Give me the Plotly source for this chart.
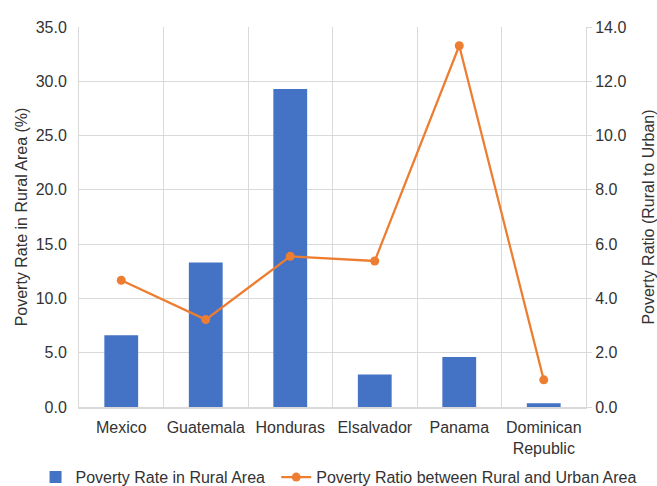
import plotly.graph_objects as go

# Rural poverty figures by country
countries = ["Mexico", "Guatemala", "Honduras", "Elsalvador", "Panama", "Dominican<br>Republic"]
rural_rate = [6.6, 13.3, 29.3, 3.0, 4.6, 0.35]          # % of rural population
rural_urban_ratio = [4.67, 3.22, 5.55, 5.38, 13.31, 1.0]  # rural / urban poverty

BLUE = "#4472C4"
ORANGE = "#ED7D31"
GRID = "#D9D9D9"
FONT = "Liberation Sans, Arial, sans-serif"
TXT = "#333333"

fig = go.Figure()

fig.add_trace(go.Bar(
    x=countries, y=rural_rate, name="Poverty Rate in Rural Area",
    marker=dict(color=BLUE, line=dict(width=0)), width=0.4,
    legend="legend",
))

fig.add_trace(go.Scatter(
    x=countries, y=rural_urban_ratio, name="Poverty Ratio between Rural and Urban Area",
    mode="lines+markers", yaxis="y2",
    line=dict(color=ORANGE, width=2.25),
    marker=dict(color=ORANGE, size=9),
    legend="legend2",
))

legend_common = dict(orientation="h", xanchor="left", y=-0.14, yanchor="top",
                     font=dict(size=16), itemwidth=30, bgcolor="rgba(0,0,0,0)")

fig.update_layout(
    width=657, height=486,
    margin=dict(l=78.5, r=71, t=27, b=78.5, autoexpand=False),
    paper_bgcolor="white", plot_bgcolor="white",
    font=dict(family=FONT, size=16, color=TXT),
    showlegend=True,
    legend=dict(x=-0.0857, **legend_common),
    legend2=dict(x=0.389, **legend_common),
    xaxis=dict(
        type="category", tickson="boundaries", showgrid=True, gridcolor=GRID, gridwidth=1,
        showline=True, linecolor=GRID, linewidth=1.5, ticks="", tickangle=0,
        ticklabelstandoff=5, tickfont=dict(size=16), range=[-0.5, 5.5],
    ),
    yaxis=dict(
        range=[0, 35], dtick=5, tickformat=".1f", showgrid=True, gridcolor=GRID, gridwidth=1,
        showline=True, linecolor=GRID, linewidth=1, ticks="", zeroline=False,
        ticklabelstandoff=8,
        title=dict(text="Poverty Rate in Rural Area (%)", font=dict(size=16), standoff=4),
        tickfont=dict(size=16),
    ),
    yaxis2=dict(
        range=[0, 14], dtick=2, tickformat=".1f", overlaying="y", side="right",
        showgrid=False, showline=True, linecolor=GRID, linewidth=1,
        ticks="outside", ticklen=5, tickcolor=GRID, zeroline=False,
        title=dict(text="Poverty Ratio (Rural to Urban)", font=dict(size=16), standoff=18),
        tickfont=dict(size=16),
    ),
    bargap=0.6,
)

fig.write_html("out.html")
